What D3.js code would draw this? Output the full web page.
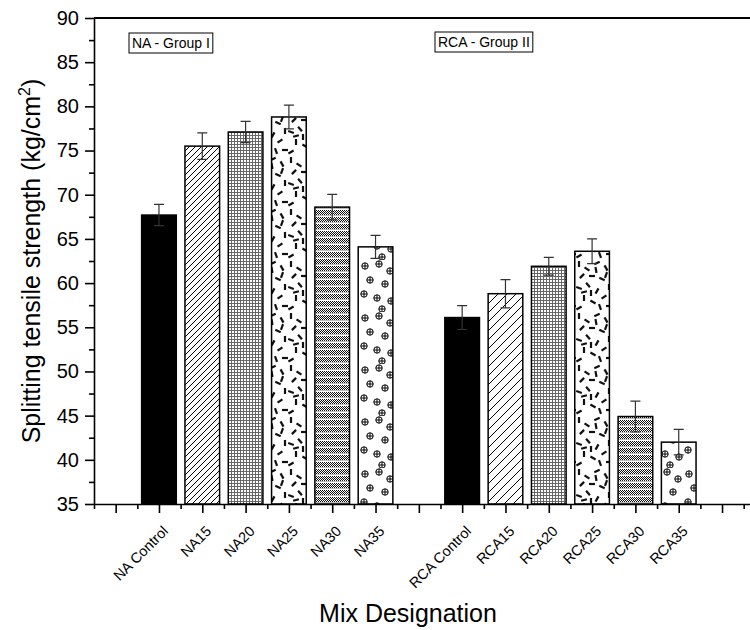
<!DOCTYPE html>
<html>
<head>
<meta charset="utf-8">
<script src="https://cdn.jsdelivr.net/npm/d3@7"></script>
<style>
  body { margin: 0; background: #fff; }
  text { font-family: Arial, "Liberation Sans", sans-serif; fill: #000; }
</style>
</head>
<body>
<div id="chart"></div>
<script>
// tick positions 1..15 along the x axis, blanks are empty slots
const xTickLabels = ["", "NA Control", "NA15", "NA20", "NA25", "NA30", "NA35", "",
                     "RCA Control", "RCA15", "RCA20", "RCA25", "RCA30", "RCA35", ""];
const categories = ["NA Control", "NA15", "NA20", "NA25", "NA30", "NA35",
                    "RCA Control", "RCA15", "RCA20", "RCA25", "RCA30", "RCA35"];
const strength = [67.7, 75.5, 77.1, 78.8, 68.6, 64.1, 56.1, 58.8, 61.9, 63.6, 44.9, 42.0];
const errors   = [1.2, 1.5, 1.2, 1.35, 1.45, 1.3, 1.35, 1.6, 1.0, 1.4, 1.75, 1.45];
const fills    = ["solid", "hatchA", "grid", "dash", "check", "dots",
                  "solid", "hatchB", "grid", "dash", "check", "dots"];
const yTicks = [35, 40, 45, 50, 55, 60, 65, 70, 75, 80, 85, 90];
const groupLabels = ["NA - Group I", "RCA - Group II"];

const W = 750, H = 630;
const plot = {left: 94, top: 18, bottom: 504, right: 787};

const svg = d3.select('#chart').append('svg')
  .attr('width', W).attr('height', H);

const x = d3.scaleLinear().domain([0.5, 16.5]).range([plot.left, plot.right]);
const y = d3.scaleLinear().domain([35, 90]).range([plot.bottom, plot.top]);
const barW = x(0.8) - x(0);

// ---- fill patterns
const defs = svg.append('defs');

function hatch(id, s) {
  const p = defs.append('pattern').attr('id', id)
    .attr('patternUnits', 'userSpaceOnUse').attr('width', s).attr('height', s);
  p.append('rect').attr('width', s).attr('height', s).attr('fill', '#fff');
  p.append('path')
    .attr('d', `M0,${s} L${s},0 M${-s/4},${s/4} L${s/4},${-s/4} M${s*3/4},${s*5/4} L${s*5/4},${s*3/4}`)
    .attr('stroke', '#000').attr('stroke-width', 1);
}
hatch('hatchA', 6);
hatch('hatchB', 9);

// fine grid
const pg = defs.append('pattern').attr('id', 'grid')
  .attr('patternUnits', 'userSpaceOnUse').attr('width', 3).attr('height', 3);
pg.append('rect').attr('width', 3).attr('height', 3).attr('fill', '#fff');
pg.append('rect').attr('width', 3).attr('height', 1).attr('fill', '#666');
pg.append('rect').attr('width', 1).attr('height', 3).attr('fill', '#666');

// checker with light stripes
const pc = defs.append('pattern').attr('id', 'check')
  .attr('patternUnits', 'userSpaceOnUse').attr('width', 2).attr('height', 7);
pc.append('rect').attr('width', 2).attr('height', 7).attr('fill', '#fff');
d3.range(5).forEach(r => {
  pc.append('rect').attr('x', r % 2).attr('y', r).attr('width', 1).attr('height', 1).attr('fill', '#111');
});
pc.append('rect').attr('x', 0).attr('y', 5).attr('width', 2).attr('height', 1).attr('fill', '#bbb');

// random dashes
const dashMarks = [[3,4,90],[11,9,35],[21,3,-25],[30,8,60],[6,16,-45],[16,16,0],[26,19,25],
                   [33,27,90],[3,28,20],[12,25,50],[21,31,-60],[8,38,90],[17,42,30],
                   [28,37,-35],[33,46,0],[3,48,-30],[24,47,70],[15,33,90],[30,15,-70],
                   [20,10,80],[8,32,-15]];
const pd = defs.append('pattern').attr('id', 'dash')
  .attr('patternUnits', 'userSpaceOnUse').attr('width', 36).attr('height', 52);
pd.append('rect').attr('width', 36).attr('height', 52).attr('fill', '#fff');
pd.selectAll('rect.d').data(dashMarks).enter().append('rect')
  .attr('class', 'd')
  .attr('x', -3).attr('y', -1.1).attr('width', 6).attr('height', 2.2)
  .attr('fill', '#111')
  .attr('transform', d => `translate(${d[0]},${d[1]}) rotate(${d[2]})`);

// circled plus
const dotMarks = [[5,6],[19,4],[30,11],[10,20],[25,24],[4,34],[17,38],[31,41],[22,49]];
const po = defs.append('pattern').attr('id', 'dots')
  .attr('patternUnits', 'userSpaceOnUse').attr('width', 36).attr('height', 52);
po.append('rect').attr('width', 36).attr('height', 52).attr('fill', '#fff');
const dg = po.selectAll('g').data(dotMarks).enter().append('g')
  .attr('transform', d => `translate(${d[0]},${d[1]})`);
dg.append('circle').attr('r', 3.2).attr('fill', '#fff').attr('stroke', '#000').attr('stroke-width', 1);
dg.append('path').attr('d', 'M-3.2,0H3.2M0,-3.2V3.2').attr('stroke', '#000').attr('stroke-width', 1);

// ---- bars
const pos = c => xTickLabels.indexOf(c) + 1;

svg.append('g').selectAll('rect')
  .data(categories)
  .enter().append('rect')
  .attr('x', (c) => x(pos(c)) - barW / 2)
  .attr('y', (c, i) => y(strength[i]))
  .attr('width', barW)
  .attr('height', (c, i) => y(35) - y(strength[i]))
  .attr('fill', (c, i) => fills[i] === 'solid' ? '#000' : `url(#${fills[i]})`)
  .attr('stroke', '#000')
  .attr('stroke-width', 1.5);

// error bars
const eb = svg.append('g').attr('stroke', '#333').attr('stroke-width', 1.2).attr('fill', 'none');
categories.forEach((c, i) => {
  const cx = x(pos(c)), hi = y(strength[i] + errors[i]), lo = y(strength[i] - errors[i]);
  eb.append('path')
    .attr('d', `M${cx},${hi}V${lo}M${cx - 5},${hi}H${cx + 5}M${cx - 5},${lo}H${cx + 5}`);
});

// ---- axes
const yAxis = svg.append('g')
  .attr('transform', `translate(${plot.left},0)`)
  .call(d3.axisLeft(y).tickValues(yTicks).tickSize(9).tickSizeOuter(0).tickPadding(6));
svg.append('g')
  .attr('transform', `translate(${plot.left},0)`)
  .call(d3.axisLeft(y).tickValues(yTicks.slice(0, -1).map(v => v + 2.5)).tickSize(5).tickFormat(''))
  .call(g => g.select('.domain').remove());
yAxis.selectAll('text').style('font-size', '20px');

svg.append('g')
  .attr('transform', `translate(0,${plot.bottom})`)
  .call(d3.axisBottom(x).tickValues(d3.range(1, 17)).tickSize(9).tickSizeOuter(0).tickFormat(''));
svg.append('g')
  .attr('transform', `translate(0,${plot.bottom})`)
  .call(d3.axisBottom(x).tickValues(d3.range(0.5, 17, 1)).tickSize(5).tickFormat(''))
  .call(g => g.select('.domain').remove());

svg.selectAll('.domain, .tick line').attr('stroke', '#000').attr('stroke-width', 1.6);

// top frame line
svg.append('line')
  .attr('x1', plot.left).attr('x2', plot.right)
  .attr('y1', plot.top).attr('y2', plot.top)
  .attr('stroke', '#000').attr('stroke-width', 1.8);

// rotated category labels
svg.append('g').selectAll('text')
  .data(xTickLabels.filter(d => d))
  .enter().append('text')
  .attr('text-anchor', 'end')
  .attr('transform', d => `translate(${x(pos(d)) + 10},${plot.bottom + 28}) rotate(-45)`)
  .style('font-size', '14.5px')
  .text(d => d);

// axis titles
svg.append('text')
  .attr('x', 408).attr('y', 622)
  .attr('text-anchor', 'middle')
  .style('font-size', '25px')
  .text('Mix Designation');

const yt = svg.append('text')
  .attr('transform', `translate(40,${(plot.top + plot.bottom) / 2}) rotate(-90)`)
  .attr('text-anchor', 'middle')
  .style('font-size', '25px');
yt.append('tspan').text('Splitting tensile strength (kg/cm');
yt.append('tspan').attr('dy', -10).style('font-size', '16px').text('2');
yt.append('tspan').attr('dy', 10).text(')');

// group labels in boxes
const boxAt = [[129, 33], [435, 32]];
groupLabels.forEach((t, i) => {
  const g = svg.append('g').attr('transform', `translate(${boxAt[i][0]},${boxAt[i][1]})`);
  const txt = g.append('text').attr('x', 3).attr('y', 15).style('font-size', '14px').text(t);
  const w = txt.node().getComputedTextLength() + 6;
  g.insert('rect', 'text').attr('width', w).attr('height', 20)
    .attr('fill', '#fff').attr('stroke', '#000').attr('stroke-width', 1);
});
</script>
</body>
</html>
